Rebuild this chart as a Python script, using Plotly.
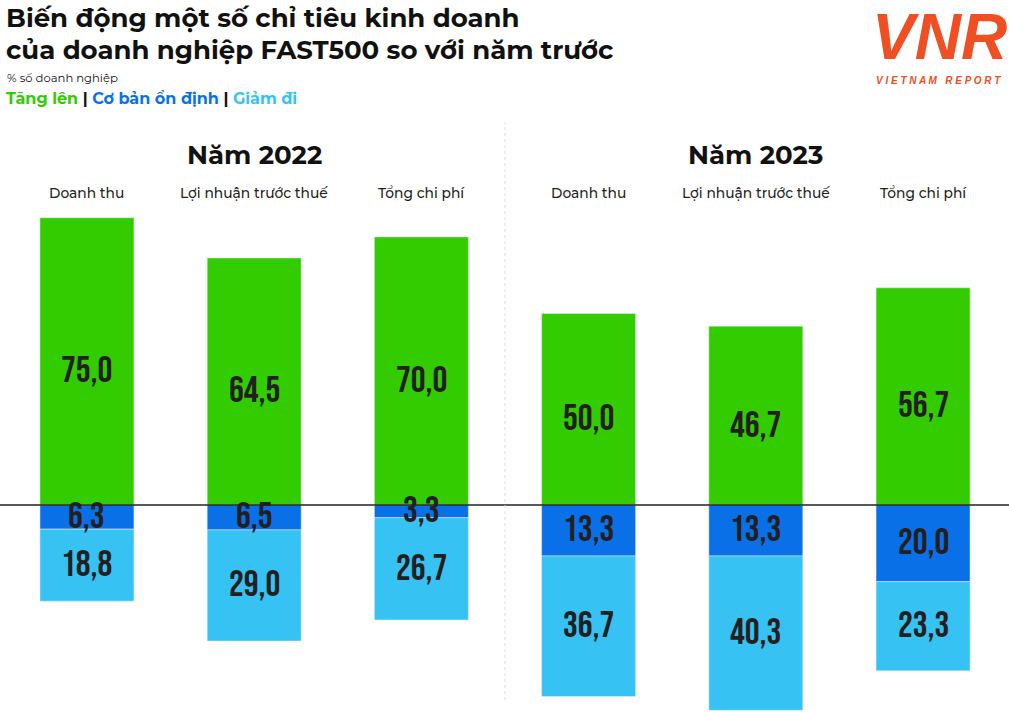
import plotly.graph_objects as go

categories = ["Doanh thu", "Lợi nhuận trước thuế", "Tổng chi phí",
              "Doanh thu", "Lợi nhuận trước thuế", "Tổng chi phí"]
years = ["Năm 2022", "Năm 2023"]
tang_len = [75.0, 64.5, 70.0, 50.0, 46.7, 56.7]
on_dinh = [6.3, 6.5, 3.3, 13.3, 13.3, 20.0]
giam_di = [18.8, 29.0, 26.7, 36.7, 40.3, 23.3]

GREEN = "#33CC00"
BLUE = "#0A70E8"
LIGHT = "#36C3F3"
TXT = "#231f20"
ORANGE = "#F04E23"
SANS = "Montserrat, Noto Sans, sans-serif"

W, H = 1009, 713
x = list(range(len(categories)))


def py(p):
    return 1 - p / H


fig = go.Figure()
fig.add_bar(x=x, y=tang_len, marker_color=GREEN, width=0.562, name="Tăng lên")
fig.add_bar(x=x, y=[-v for v in on_dinh], marker_color=BLUE, width=0.562, name="Cơ bản ổn định")
fig.add_bar(x=x, y=[-v for v in giam_di], marker_color=LIGHT, width=0.562, name="Giảm đi")

ann = []
num_font = dict(family="Bebas Neue, Oswald, Antonio, sans-serif", size=37, color=TXT)


def fmt(v):
    return f"{v:.1f}".replace(".", ",")


for i in x:
    ann.append(dict(x=i, y=tang_len[i] / 2, text=fmt(tang_len[i]), showarrow=False,
                    xanchor="center", yanchor="middle", font=num_font, yshift=-10))
    ann.append(dict(x=i, y=-on_dinh[i] / 2, text=fmt(on_dinh[i]), showarrow=False,
                    xanchor="center", yanchor="middle", font=num_font))
    ann.append(dict(x=i, y=-on_dinh[i] - giam_di[i] / 2, text=fmt(giam_di[i]), showarrow=False,
                    xanchor="center", yanchor="middle", font=num_font))
    ann.append(dict(x=i, y=py(193), yref="paper", text=categories[i], showarrow=False,
                    xanchor="center", yanchor="middle",
                    font=dict(family=SANS, size=13.8, color=TXT, weight=500)))

for j, yr in enumerate(years):
    ann.append(dict(x=1 + 3 * j, y=py(155), yref="paper", text=f"<b>{yr}</b>", showarrow=False,
                    xanchor="center", yanchor="middle",
                    font=dict(family=SANS, size=26, color="#111")))

title_font = dict(family=SANS, size=26, color="#111")
for txt, yp in [("Biến động một số chỉ tiêu kinh doanh", 18),
                ("của doanh nghiệp FAST500 so với năm trước", 50)]:
    ann.append(dict(x=4 / W, xref="paper", y=py(yp), yref="paper", xanchor="left", yanchor="middle",
                    text=f"<b>{txt}</b>", showarrow=False, font=title_font))
ann.append(dict(x=5 / W, xref="paper", y=py(78), yref="paper", xanchor="left", yanchor="middle",
                text="% số doanh nghiệp", showarrow=False,
                font=dict(family=SANS, size=11.6, color="#111")))
ann.append(dict(x=4 / W, xref="paper", y=py(99), yref="paper", xanchor="left", yanchor="middle",
                text=(f"<b><span style='color:{GREEN}'>Tăng lên</span> | "
                      f"<span style='color:{BLUE}'>Cơ bản ổn định</span> | "
                      f"<span style='color:{LIGHT}'>Giảm đi</span></b>"),
                showarrow=False, font=dict(family=SANS, size=16, color="#111")))

# logo
ann.append(dict(x=939 / W, xref="paper", y=py(37), yref="paper", xanchor="center", yanchor="middle",
                text="<b><i>VNR</i></b>", showarrow=False,
                font=dict(family="Liberation Sans, sans-serif", size=64, color=ORANGE)))
ann.append(dict(x=938 / W, xref="paper", y=py(80), yref="paper", xanchor="center", yanchor="middle",
                text="<b><i>V I E T N A M   R E P O R T</i></b>", showarrow=False,
                font=dict(family="Liberation Sans, sans-serif", size=10, color=ORANGE)))

shapes = [
    dict(type="line", xref="paper", x0=0, x1=1, y0=0, y1=0, line=dict(color="#222", width=1.5), layer="above"),
    dict(type="line", x0=2.5, x1=2.5, yref="paper", y0=py(700), y1=py(122),
         line=dict(color="#dddddd", width=1, dash="dot")),
]

fig.update_layout(
    width=W, height=H, barmode="relative", showlegend=False,
    margin=dict(l=0, r=0, t=0, b=0),
    paper_bgcolor="white", plot_bgcolor="white",
    xaxis=dict(range=[-0.520, 5.514], visible=False, fixedrange=True),
    yaxis=dict(range=[-54.3, 131.85], visible=False, fixedrange=True),
    annotations=ann, shapes=shapes,
)
fig.write_html("out.html", config={"displayModeBar": False},
               post_script="document.body.style.margin='0';")
